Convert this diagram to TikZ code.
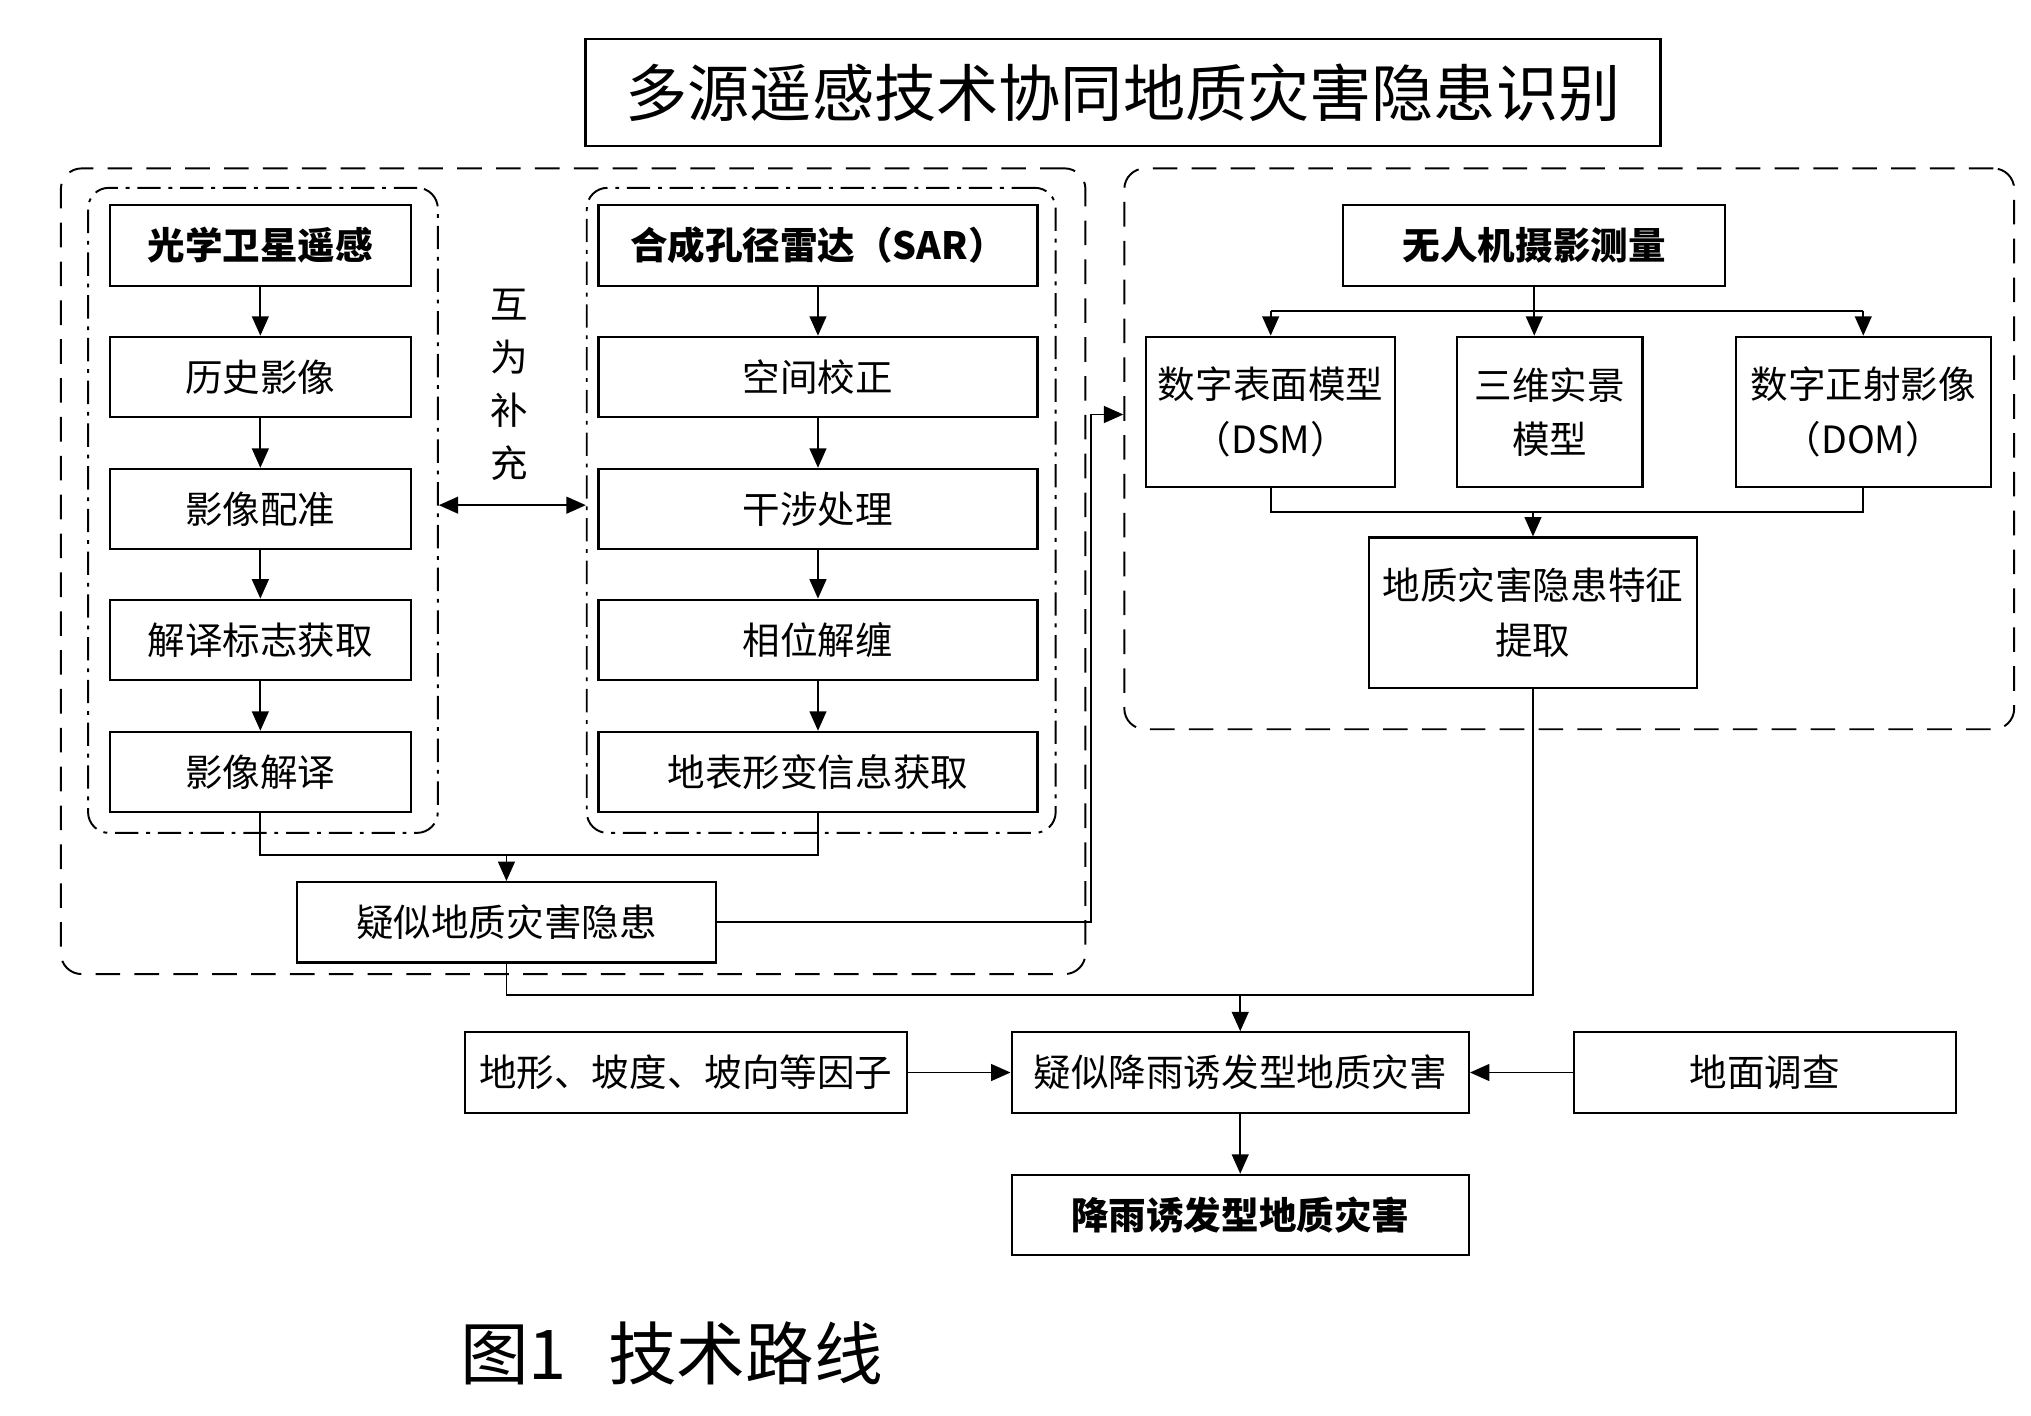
\documentclass[tikz,border=0pt]{standalone}
\usepackage{fontspec}
\setmainfont{Noto Sans CJK SC}
\usetikzlibrary{arrows.meta,fit}
\begin{document}
\begin{tikzpicture}[x=0.5pt,y=-0.5pt,
 box/.style={draw,line width=0.85pt,inner sep=0pt,align=center,font=\fontsize{14.5pt}{21pt}\selectfont},
 bbox/.style={box,font=\fontsize{14.5pt}{21pt}\selectfont\bfseries},
 sz/.style 2 args={minimum width=#1*0.5pt,minimum height=#2*0.5pt},
 grp/.style={draw,line width=0.75pt,dash pattern=on 9.5pt off 5.5pt,rounded corners=8pt,inner sep=0pt},
 subgrp/.style={draw,line width=0.75pt,dash pattern=on 9pt off 3pt on 1.5pt off 3pt,rounded corners=8pt,inner sep=0pt},
 conn/.style={line width=0.7pt},
 arr/.style={conn,-{Triangle[length=7.5pt,width=6.5pt]}},
 darr/.style={conn,{Triangle[length=7.5pt,width=6.5pt]}-{Triangle[length=7.5pt,width=6.5pt]}},
]
\fill[white] (0,0) rectangle (1568,1093);
\useasboundingbox (0,0) rectangle (1568,1093);

% title
\node[box, sz={830}{83}, font=\fontsize{24pt}{28pt}\selectfont] (title) at (867,71.5) {多源遥感技术协同地质灾害隐患识别};

% groups
\node[grp, fit={(47,130)(838,752)}] (g1) {};
\node[grp, fit={(868,130)(1555,563)}] (g2) {};
\node[subgrp, fit={(68,145)(338,643)}] (s1) {};
\node[subgrp, fit={(453,145)(815,643)}] (s2) {};

% optical column
\node[bbox, sz={232}{63}] (o1) at (201,189.5) {光学卫星遥感};
\node[box, sz={232}{62}] (o2) at (201,291) {历史影像};
\node[box, sz={232}{62}] (o3) at (201,393) {影像配准};
\node[box, sz={232}{62}] (o4) at (201,494) {解译标志获取};
\node[box, sz={232}{62}] (o5) at (201,596) {影像解译};

% SAR column
\node[bbox, sz={339}{63}] (r1) at (631.5,189.5) {合成孔径雷达（SAR）};
\node[box, sz={339}{62}] (r2) at (631.5,291) {空间校正};
\node[box, sz={339}{62}] (r3) at (631.5,393) {干涉处理};
\node[box, sz={339}{62}] (r4) at (631.5,494) {相位解缠};
\node[box, sz={339}{62}] (r5) at (631.5,596) {地表形变信息获取};

\foreach \a/\b in {o1/o2,o2/o3,o3/o4,o4/o5,r1/r2,r2/r3,r3/r4,r4/r5}
  \draw[arr] (\a.south) -- (\b.north);

% mutual complement
\node[align=center, inner sep=0pt, font=\fontsize{14.5pt}{20.5pt}\selectfont] (hw) at (393,297) {互\\为\\补\\充};
\coordinate (y390) at (0,390);
\draw[darr] (s1.east |- y390) -- (s2.west |- y390);

% suspected hazards
\node[box, sz={324}{62}] (sus) at (391,712) {疑似地质灾害隐患};
\coordinate (y660) at (0,660);
\draw[conn] (o5.south) -- (o5.south |- y660) -- (r5.south |- y660) -- (r5.south);
\draw[arr] (sus.north |- y660) -- (sus.north);

\coordinate (k1) at (842,320);
\draw[arr] (sus.east) -| (k1) -- (g2.west |- k1);

% UAV group
\node[bbox, sz={295}{63}] (u0) at (1184.5,189.5) {无人机摄影测量};
\node[box, sz={192}{116}] (u1) at (981,318) {数字表面模型\\（DSM）};
\node[box, sz={143}{116}] (u2) at (1196.5,318) {三维实景\\模型};
\node[box, sz={197}{116}] (u3) at (1438.5,318) {数字正射影像\\（DOM）};
\coordinate (y240) at (0,240);
\draw[conn] (u1.north |- y240) -- (u3.north |- y240);
\draw[arr] (u0.south) -- (u0.south |- u2.north);
\draw[arr] (u1.north |- y240) -- (u1.north);
\draw[arr] (u3.north |- y240) -- (u3.north);

\node[box, sz={253}{116}] (feat) at (1183.5,473) {地质灾害隐患特征\\提取};
\coordinate (y395) at (0,395);
\draw[conn] (u1.south) -- (u1.south |- y395) -- (u3.south |- y395) -- (u3.south);
\draw[arr] (feat.north |- y395) -- (feat.north);

% bottom part
\node[box, sz={341}{62}] (f1) at (529.5,828) {地形、坡度、坡向等因子};
\node[box, sz={353}{62}] (c1) at (957.5,828) {疑似降雨诱发型地质灾害};
\node[box, sz={295}{62}] (f3) at (1362.5,828) {地面调查};
\node[bbox, sz={353}{62}] (c2) at (957.5,938) {降雨诱发型地质灾害};

\coordinate (y768) at (0,768);
\draw[conn] (feat.south) -- (feat.south |- y768) -- (sus.south |- y768) -- (sus.south);
\draw[arr] (c1.north |- y768) -- (c1.north);
\draw[arr] (f1.east) -- (c1.west);
\draw[arr] (f3.west) -- (c1.east);
\draw[arr] (c1.south) -- (c2.north);

% caption
\node[anchor=west, inner sep=0pt, font=\fontsize{26.5pt}{30pt}\selectfont] (cap) at (355,1045) {图1\hspace{0.6em}技术路线};
\end{tikzpicture}
\end{document}
